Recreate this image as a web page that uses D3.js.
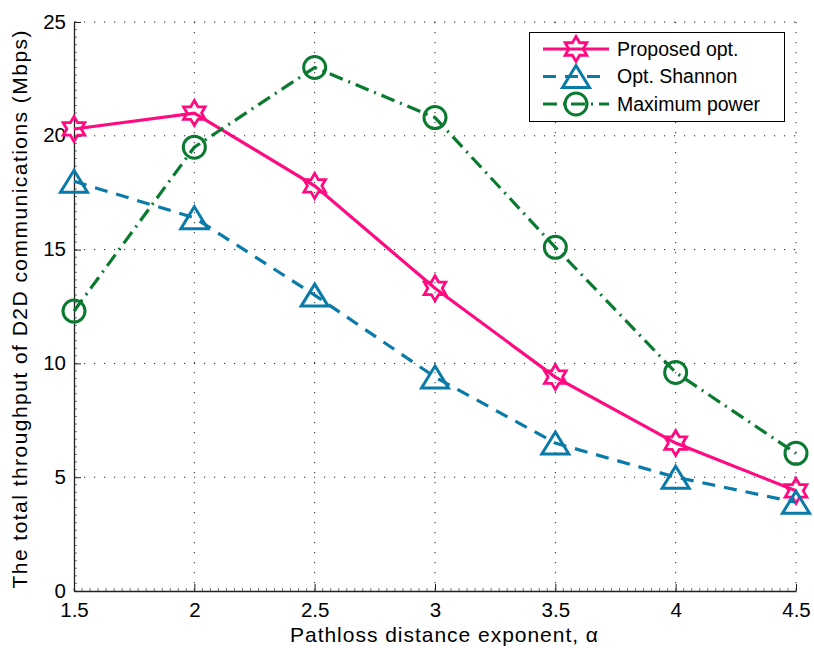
<!DOCTYPE html>
<html>
<head>
<meta charset="utf-8">
<script src="https://cdn.jsdelivr.net/npm/d3@7"></script>
<style>
  body { margin: 0; background: #fff; }
  text { font-family: "Liberation Sans", Arial, sans-serif; }
</style>
</head>
<body>
<div id="chart"></div>
<script>
// Data
const alphas = [1.5, 2, 2.5, 3, 3.5, 4, 4.5];
const proposedOpt = [20.3, 21.0, 17.8, 13.3, 9.4, 6.5, 4.4];
const optShannon = [18.0, 16.4, 13.0, 9.4, 6.5, 5.0, 3.9];
const maximumPower = [12.3, 19.5, 23.0, 20.8, 15.1, 9.6, 6.05];

const xTicks = [1.5, 2, 2.5, 3, 3.5, 4, 4.5];
const yTicks = [0, 5, 10, 15, 20, 25];

const seriesNames = ['Proposed opt.', 'Opt. Shannon', 'Maximum power'];

const colors = {
    pink: '#ff0a80',
    blue: '#0a7aa8',
    green: '#0a7a30',
    grid: '#222222',
    axis: '#222222'
};

const W = 814, H = 648;
const margin = { top: 22, right: 18, bottom: 57, left: 74 };
const width = W - margin.left - margin.right;
const height = H - margin.top - margin.bottom;

const svg = d3.select('#chart').append('svg')
    .attr('width', W)
    .attr('height', H);

const g = svg.append('g')
    .attr('transform', `translate(${margin.left},${margin.top})`);

const x = d3.scaleLinear().domain([1.5, 4.5]).range([0, width]);
const y = d3.scaleLinear().domain([0, 25]).range([height, 0]);

// dotted grid
g.append('g').selectAll('line')
    .data(xTicks.slice(1))
    .join('line')
    .attr('x1', d => x(d)).attr('x2', d => x(d))
    .attr('y1', 0).attr('y2', height)
    .attr('stroke', colors.grid)
    .attr('stroke-width', 1)
    .attr('stroke-dasharray', '1.2,8.8');

g.append('g').selectAll('line')
    .data(yTicks.slice(1))
    .join('line')
    .attr('x1', 0).attr('x2', width)
    .attr('y1', d => y(d)).attr('y2', d => y(d))
    .attr('stroke', colors.grid)
    .attr('stroke-width', 1)
    .attr('stroke-dasharray', '1.2,8.8');

// minor ticks
const xMinor = d3.range(1.5, 4.5001, 0.5 / 15);
const yMinor = d3.range(0, 25.001, 1 / 3);

g.append('g').selectAll('line')
    .data(xMinor)
    .join('line')
    .attr('x1', d => x(d)).attr('x2', d => x(d))
    .attr('y1', height).attr('y2', height - 3)
    .attr('stroke', '#555')
    .attr('stroke-width', 0.8);

g.append('g').selectAll('line')
    .data(yMinor)
    .join('line')
    .attr('x1', 0).attr('x2', 3)
    .attr('y1', d => y(d)).attr('y2', d => y(d))
    .attr('stroke', '#555')
    .attr('stroke-width', 0.8);

// axes (ticks pointing inward)
const xAxis = d3.axisBottom(x)
    .tickValues(xTicks)
    .tickFormat(d3.format('~g'))
    .tickSizeInner(-7)
    .tickSizeOuter(0)
    .tickPadding(12);

const yAxis = d3.axisLeft(y)
    .tickValues(yTicks)
    .tickFormat(d3.format('d'))
    .tickSizeInner(-7)
    .tickSizeOuter(0)
    .tickPadding(8);

const gx = g.append('g')
    .attr('transform', `translate(0,${height})`)
    .call(xAxis);

const gy = g.append('g').call(yAxis);

[gx, gy].forEach(a => {
    a.select('.domain').attr('stroke', colors.axis).attr('stroke-width', 1.3);
    a.selectAll('.tick line').attr('stroke', colors.axis).attr('stroke-width', 1);
    a.selectAll('.tick text')
        .attr('fill', '#000')
        .style('font-size', '20.5px')
        .style('font-family', '"Liberation Sans", Arial, sans-serif');
});
gy.selectAll('.tick text').attr('dy', '0.3em');
gx.selectAll('.tick text').attr('dy', '0.68em');

// axis titles
svg.append('text')
    .attr('x', 444)
    .attr('y', 642)
    .attr('text-anchor', 'middle')
    .style('font-size', '21px')
    .attr('textLength', 308)
    .attr('lengthAdjust', 'spacing')
    .text('Pathloss distance exponent, α');

svg.append('text')
    .attr('transform', `translate(27,${margin.top + height / 2 + 3}) rotate(-90)`)
    .attr('text-anchor', 'middle')
    .style('font-size', '21px')
    .attr('textLength', 558)
    .attr('lengthAdjust', 'spacing')
    .text('The total throughput of D2D communications (Mbps)');

// marker shapes
function hexagram(r) {
    const pts = [];
    const ri = r / Math.sqrt(3);
    for (let i = 0; i < 12; i++) {
        const a = -Math.PI / 2 + i * Math.PI / 6;
        const rr = i % 2 === 0 ? r : ri;
        pts.push([rr * Math.cos(a), rr * Math.sin(a)]);
    }
    return 'M' + pts.map(p => p.join(',')).join('L') + 'Z';
}

function triangle(w, h) {
    return `M0,${-h / 2}L${w / 2},${h / 2}L${-w / 2},${h / 2}Z`;
}

const series = [
    { name: seriesNames[0], values: proposedOpt, color: colors.pink, dash: null, marker: 'star' },
    { name: seriesNames[1], values: optShannon, color: colors.blue, dash: '13,9', marker: 'tri' },
    { name: seriesNames[2], values: maximumPower, color: colors.green, dash: '14,6,2,6', marker: 'circ' }
];

function drawMarker(sel, s, cx, cy) {
    if (s.marker === 'star') {
        sel.append('path')
            .attr('d', hexagram(12.5))
            .attr('transform', `translate(${cx},${cy})`)
            .attr('fill', 'none')
            .attr('stroke', s.color)
            .attr('stroke-width', 2.8)
            .attr('stroke-linejoin', 'miter');
    } else if (s.marker === 'tri') {
        sel.append('path')
            .attr('d', triangle(27, 22))
            .attr('transform', `translate(${cx},${cy})`)
            .attr('fill', 'none')
            .attr('stroke', s.color)
            .attr('stroke-width', 3);
    } else {
        sel.append('circle')
            .attr('cx', cx).attr('cy', cy)
            .attr('r', 11)
            .attr('fill', 'none')
            .attr('stroke', s.color)
            .attr('stroke-width', 3);
    }
}

const line = d3.line()
    .x((d, i) => x(alphas[i]))
    .y(d => y(d));

series.forEach(s => {
    const sg = g.append('g');
    sg.append('path')
        .datum(s.values)
        .attr('d', line)
        .attr('fill', 'none')
        .attr('stroke', s.color)
        .attr('stroke-width', 3.2)
        .attr('stroke-dasharray', s.dash);
    s.values.forEach((v, i) => drawMarker(sg, s, x(alphas[i]), y(v)));
});

// legend
const legend = svg.append('g');
legend.append('rect')
    .attr('x', 529.5).attr('y', 32.5)
    .attr('width', 255).attr('height', 89)
    .attr('fill', '#fff')
    .attr('stroke', '#000')
    .attr('stroke-width', 1);

series.forEach((s, i) => {
    const ly = 49 + i * 27.5;
    legend.append('line')
        .attr('x1', 543).attr('x2', 609)
        .attr('y1', ly).attr('y2', ly)
        .attr('stroke', s.color)
        .attr('stroke-width', 3.2)
        .attr('stroke-dasharray', s.dash);
    drawMarker(legend, s, 576, ly);
    legend.append('text')
        .attr('x', 617)
        .attr('y', ly)
        .attr('dy', '0.35em')
        .style('font-size', '19.5px')
        .text(s.name);
});
</script>
</body>
</html>
